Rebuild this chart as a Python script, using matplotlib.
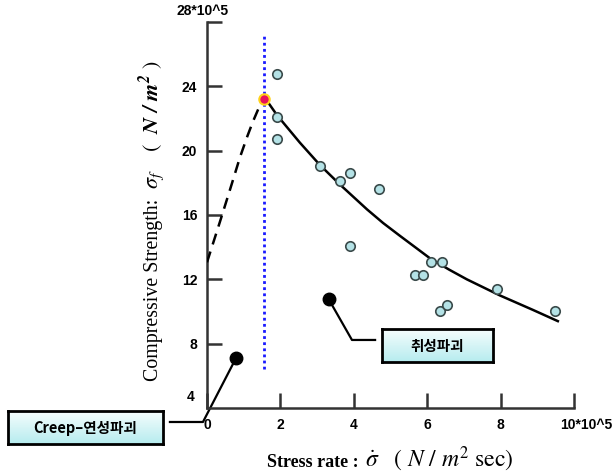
import numpy as np
import matplotlib
matplotlib.use("Agg")
import matplotlib.pyplot as plt
from matplotlib.colors import LinearSegmentedColormap

plt.rcParams['mathtext.fontset'] = 'stix'

# ---- data, units of 10^5 ----
obs_x = [1.91, 1.91, 1.91, 3.08, 3.62, 3.90, 3.90, 4.69, 5.67, 5.89, 6.10, 6.40, 6.35, 6.54, 7.90, 9.48]
obs_y = [24.75, 22.10, 20.75, 19.06, 18.10, 18.60, 14.06, 17.60, 12.30, 12.30, 13.10, 13.10, 10.06, 10.40, 11.40, 10.06]

peak_x = [1.55]
peak_y = [23.2]

fit_x = [1.68, 1.91, 2.53, 3.08, 3.62, 4.36, 4.80, 5.26, 5.70, 6.08, 6.60, 7.08, 7.98, 8.88, 9.56]
fit_y = [22.95, 22.2, 20.5, 19.1, 17.9, 16.35, 15.5, 14.7, 13.95, 13.3, 12.6, 12.0, 11.0, 10.1, 9.4]

creep_x = [0.0, 0.35, 0.63, 0.90, 1.10, 1.25, 1.40, 1.55, 1.68]
creep_y = [13.06, 15.56, 17.6, 19.6, 20.9, 21.8, 22.6, 23.2, 22.95]

vline_x = 1.55
vline_y = [6.4, 27.3]

callout_pts_x = [0.79, 3.32]
callout_pts_y = [7.1, 10.75]
callout_texts = ['Creep–연성파괴', '취성파괴']

xticks = [0, 2, 4, 6, 8]
yticks = [8, 12, 16, 20, 24]

W, H = 615, 474
fig = plt.figure(figsize=(W / 100, H / 100), dpi=100)
ax = fig.add_axes([207 / W, 1 - 408 / H, 367 / W, 386 / H])
ax.set_xlim(0, 10)
ax.set_ylim(4, 28)
for s in ['top', 'right']:
    ax.spines[s].set_visible(False)
for s in ['left', 'bottom']:
    ax.spines[s].set_linewidth(1.8)
    ax.spines[s].set_color('#333333')

tickfont = dict(family='Liberation Sans', weight='bold', size=10)
ax.set_xticks(xticks + [10])
ax.set_xticklabels([str(v) for v in xticks] + [''], **tickfont)
ax.set_yticks(yticks + [28])
ax.set_yticklabels([str(v) for v in yticks] + [''], **tickfont)
ax.tick_params(axis='both', direction='in', length=11, width=1.8, color='#333333', pad=7)
ax.annotate('28*10^5', xy=(0, 28), xytext=(-3, 3), textcoords='offset points',
            ha='center', va='bottom', annotation_clip=False, **tickfont)
ax.annotate('10*10^5', xy=(10, 4), xytext=(9, -7), textcoords='offset points',
            ha='center', va='top', annotation_clip=False, **tickfont)
ax.annotate('4', xy=(0, 4), xytext=(-9, 3), textcoords='offset points',
            ha='right', va='bottom', annotation_clip=False, **tickfont)

# lines
ax.plot([vline_x, vline_x], vline_y, color='#1a1aff', lw=2, ls=(0, (1, 1.2)), zorder=2)
ax.plot(creep_x, creep_y, color='black', lw=1.8, ls=(0, (4.5, 3)), zorder=3)
ax.plot(fit_x, fit_y, color='black', lw=1.8, zorder=3)
ax.plot(obs_x, obs_y, ls='none', marker='o', ms=6.8, mfc='#b4e2e6', mec='#3a4a4a', mew=1.2, zorder=4)
ax.plot(peak_x, peak_y, ls='none', marker='o', ms=7.5, mfc='#e8105a', mec='#ffd21a', mew=1.5, zorder=5)
ax.plot(callout_pts_x, callout_pts_y, ls='none', marker='o', ms=9, mfc='black', mec='black', zorder=5)

# leader lines (layout)
ax.plot([callout_pts_x[0], -0.11, -1.01], [callout_pts_y[0], 3.13, 3.13], color='black', lw=1.6, clip_on=False)
ax.plot([callout_pts_x[1], 3.95, 4.58], [callout_pts_y[1], 8.23, 8.23], color='black', lw=1.6, clip_on=False)

# callout boxes with gradient
grad = np.linspace(0, 1, 64).reshape(-1, 1)
cmap = LinearSegmentedColormap.from_list('g', ['#f6fdfd', '#b6ecef'])
boxes = [(8, 411, 155, 33), (382, 329, 111, 33)]
for (bx, by, bw, bh), txt in zip(boxes, callout_texts):
    bax = fig.add_axes([bx / W, 1 - (by + bh) / H, bw / W, bh / H])
    bax.imshow(grad, aspect='auto', cmap=cmap, extent=[0, 1, 0, 1])
    bax.set_xticks([]); bax.set_yticks([])
    for s in bax.spines.values():
        s.set_linewidth(2)
        s.set_color('black')
    bax.text(0.5, 0.5, txt, ha='center', va='center', fontsize=10.5, weight='bold',
             family=['Noto Sans CJK KR', 'DejaVu Sans'], transform=bax.transAxes)

# axis labels
ybase = 158 / W
fig.text(ybase, 1 - 381 / H, 'Compressive Strength:', rotation=90, rotation_mode='anchor',
         ha='left', va='baseline', fontsize=14.3, family='Liberation Serif')
fig.text(ybase, 1 - 189 / H,
         r'$\sigma_f\ \ \ \ (\ \ \mathbfit{N\ /\ m^2}\ )$', rotation=90, rotation_mode='anchor',
         ha='left', va='baseline', fontsize=16)
xbase = 1 - 467 / H
fig.text(267 / W, xbase, 'Stress rate :',
         ha='left', va='baseline', fontsize=13, family='Liberation Serif', weight='bold')
fig.text(365 / W, xbase,
         r'$\dot{\sigma}\ \ \ (\ N\ /\ m^2\ \mathrm{sec})$',
         ha='left', va='baseline', fontsize=17)

fig.savefig('out.png', dpi=100)
